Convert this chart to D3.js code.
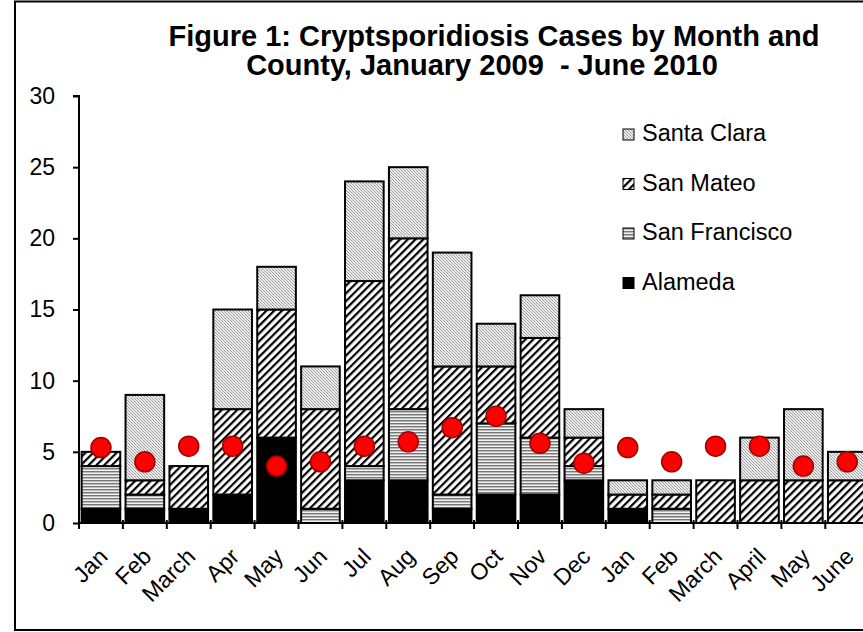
<!DOCTYPE html>
<html><head><meta charset="utf-8">
<script src="https://cdn.jsdelivr.net/npm/d3@7"></script>
<style>body{margin:0;background:#fff}svg{display:block}text{font-family:"Liberation Sans",Arial,sans-serif}</style>
</head><body>
<svg id="c" width="863" height="632"></svg>
<script>
const months = ["Jan","Feb","March","Apr","May","Jun","Jul","Aug","Sep","Oct","Nov","Dec","Jan","Feb","March","April","May","June"];
const alameda      = [1,1,1,2,6,0,3,3,1,2,2,3,1,0,0,0,0,0];
const sanFrancisco = [3,1,0,0,0,1,1,5,1,5,4,1,0,1,0,0,0,0];
const sanMateo     = [1,1,3,6,9,7,13,12,9,4,7,2,1,1,3,3,3,3];
const santaClara   = [0,6,0,7,3,3,7,5,8,3,3,2,1,1,0,3,5,2];
const baseline     = [5.3,4.3,5.4,5.4,4.0,4.3,5.4,5.7,6.7,7.5,5.6,4.2,5.3,4.3,5.4,5.4,4.0,4.3];
const seriesNames  = ["Alameda","San Francisco","San Mateo","Santa Clara"];
const yTicks       = [0,5,10,15,20,25,30];
const titleLines   = ["Figure 1: Cryptsporidiosis Cases by Month and","County, January 2009\u00a0 - June 2010"];

const svg = d3.select("#c");
const defs = svg.append("defs");
// patterns
const pSC = defs.append("pattern").attr("id","pSC").attr("patternUnits","userSpaceOnUse").attr("width",3).attr("height",3);
pSC.append("rect").attr("width",3).attr("height",3).attr("fill","#ececec");
pSC.append("rect").attr("x",0).attr("y",0).attr("width",1).attr("height",1).attr("fill","#999");
pSC.append("rect").attr("x",1).attr("y",1).attr("width",1).attr("height",1).attr("fill","#aaa");
pSC.append("rect").attr("x",2).attr("y",2).attr("width",1).attr("height",1).attr("fill","#999");
const pSM = defs.append("pattern").attr("id","pSM").attr("patternUnits","userSpaceOnUse").attr("width",5.5).attr("height",5.5).attr("patternTransform","rotate(45)");
pSM.append("rect").attr("width",5.5).attr("height",5.5).attr("fill","#fff");
pSM.append("rect").attr("width",2.2).attr("height",5.5).attr("fill","#000");
const pSF = defs.append("pattern").attr("id","pSF").attr("patternUnits","userSpaceOnUse").attr("width",4).attr("height",3);
pSF.append("rect").attr("width",4).attr("height",3).attr("fill","#f0f0f0");
pSF.append("rect").attr("y",0).attr("width",4).attr("height",1).attr("fill","#777");
pSF.append("rect").attr("y",1).attr("width",4).attr("height",1).attr("fill","#bbb");
const fills = ["#000","url(#pSF)","url(#pSM)","url(#pSC)"];

// frame
svg.append("rect").attr("x",15).attr("y",1.5).attr("width",900).attr("height",628.5).attr("fill","none").attr("stroke","#000").attr("stroke-width",2);

// title
const title = svg.append("text").attr("font-weight","bold").attr("font-size",29).attr("text-anchor","middle");
title.append("tspan").attr("x",494).attr("y",46).text(titleLines[0]);
title.append("tspan").attr("x",482).attr("y",75).text(titleLines[1]);

const x0 = 79, step = 43.9;
const x = d3.scaleBand().domain(d3.range(months.length)).range([x0, x0 + step*months.length]).paddingInner(0.12).paddingOuter(0.06);
const y = d3.scaleLinear().domain([0,30]).range([523,96]);

const table = months.map((m,i)=>({i, Alameda:alameda[i], "San Francisco":sanFrancisco[i], "San Mateo":sanMateo[i], "Santa Clara":santaClara[i]}));
const stack = d3.stack().keys(seriesNames)(table);

const g = svg.append("g");
stack.forEach((s,k)=>{
  g.append("g").selectAll("rect").data(s.filter(d=>d[1]>d[0])).join("rect")
    .attr("x",d=>x(d.data.i)).attr("width",x.bandwidth())
    .attr("y",d=>y(d[1])).attr("height",d=>y(d[0])-y(d[1]))
    .attr("fill",fills[k]).attr("stroke","#000").attr("stroke-width",2);
});

// y axis
const yAxis = svg.append("g").attr("transform",`translate(${x0},0)`)
  .call(d3.axisLeft(y).tickValues(yTicks).tickSize(6).tickPadding(18));
yAxis.select(".domain").attr("stroke-width",2).attr("d",`M-6,${y(30)}H0V${y(0)}`);
yAxis.selectAll(".tick line").attr("stroke-width",2);
yAxis.selectAll("text").attr("font-size",23).attr("fill","#000");

// x axis
const xa = svg.append("g").attr("transform",`translate(0,${y(0)})`);
xa.append("line").attr("x1",x0).attr("x2",x0+step*months.length).attr("stroke","#000").attr("stroke-width",2);
xa.selectAll("line.tk").data(d3.range(months.length+1)).join("line").attr("class","tk")
  .attr("x1",i=>x0+step*i).attr("x2",i=>x0+step*i).attr("y1",-3).attr("y2",6).attr("stroke","#000").attr("stroke-width",2);
svg.append("g").selectAll("text").data(months).join("text")
  .attr("transform",(d,i)=>`translate(${x(i)+x.bandwidth()/2+8},${y(0)+35}) rotate(-45)`)
  .attr("text-anchor","end").attr("font-size",23).text(d=>d);

// dots
svg.append("g").selectAll("circle").data(baseline).join("circle")
  .attr("cx",(d,i)=>x(i)+x.bandwidth()/2).attr("cy",d=>y(d)).attr("r",10)
  .attr("fill","#ff0000").attr("stroke","#a00000").attr("stroke-width",1.5);

// legend
const legOrder = [3,2,1,0];
const lg = svg.append("g");
legOrder.forEach((k,j)=>{
  const by = 141 + j*49.5;
  lg.append("rect").attr("x",623).attr("y",by-12).attr("width",11).attr("height",11).attr("fill",fills[k]).attr("stroke","#000").attr("stroke-width",1);
  lg.append("text").attr("x",642).attr("y",by).attr("font-size",23.5).text(seriesNames[k]);
});
</script>
</body></html>
